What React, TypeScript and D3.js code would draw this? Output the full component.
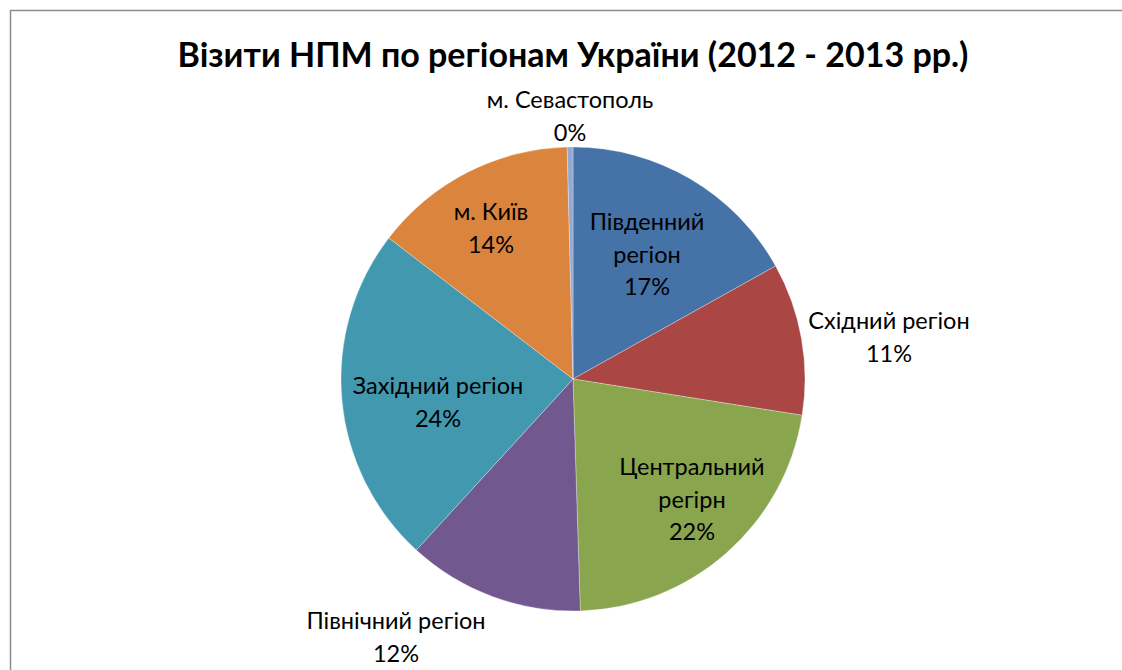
import React from "react";
import * as d3 from "d3";

const categories = [
  "Південний регіон",
  "Східний регіон",
  "Центральний регірн",
  "Північний регіон",
  "Західний регіон",
  "м. Київ",
  "м. Севастополь",
];
const shares = [16.9, 10.6, 22.0, 12.3, 23.6, 14.2, 0.4];
const colors = ["#4572a7", "#aa4643", "#89a54e", "#71588f", "#4198af", "#db843d", "#93a9cf"];
// label lines per slice
const labelLines = [
  ["Південний", "регіон"],
  ["Східний регіон"],
  ["Центральний", "регірн"],
  ["Північний регіон"],
  ["Західний регіон"],
  ["м. Київ"],
  ["м. Севастополь"],
];
// label layout: [x, y of first line center]
const labelPos: [number, number][] = [
  [647, 222],
  [889, 321],
  [692, 467],
  [396, 621],
  [438, 386],
  [491, 212],
  [570, 100],
];

const W = 1122;
const H = 670;
const cx = 573;
const cy = 379;
const R = 232;
const lineH = 32.5;

export default function App() {
  const pie = d3.pie<number>().sort(null).value((d) => d);
  const arcs = pie(shares);
  const arcGen = d3.arc<d3.PieArcDatum<number>>().innerRadius(0).outerRadius(R);
  const fmt = (v: number) => `${Math.round(v)}%`;
  return (
    <svg
      width={W}
      height={H}
      style={{ position: "absolute", left: 0, top: 0, background: "#fff" }}
      fontFamily="Lato, 'Open Sans', sans-serif"
    >
      <rect x={0} y={0} width={W} height={H} fill="#fff" />
      <path d={`M10.5,${H} L10.5,10.5 L${W},10.5`} fill="none" stroke="#8c8c8c" strokeWidth={1.5} />
      <text
        x={cx}
        y={67}
        textAnchor="middle"
        fontSize={34}
        fontWeight="bold"
        fill="#000"
      >
        Візити НПМ по регіонам України (2012 - 2013 рр.)
      </text>
      <g transform={`translate(${cx},${cy})`}>
        {arcs.map((a, i) => (
          <path
            key={i}
            d={arcGen(a) || ""}
            fill={colors[i]}
            stroke="#ffffff"
            strokeOpacity={0.5}
            strokeWidth={0.6}
          />
        ))}
      </g>
      {arcs.map((a, i) => {
        const [x, y] = labelPos[i];
        const lines = [...labelLines[i], fmt(shares[i])];
        return (
          <text key={i} textAnchor="middle" fontSize={23.5} fill="#000">
            {lines.map((l, j) => (
              <tspan key={j} x={x} y={y + j * lineH} dy="0.35em">
                {l}
              </tspan>
            ))}
          </text>
        );
      })}
    </svg>
  );
}
